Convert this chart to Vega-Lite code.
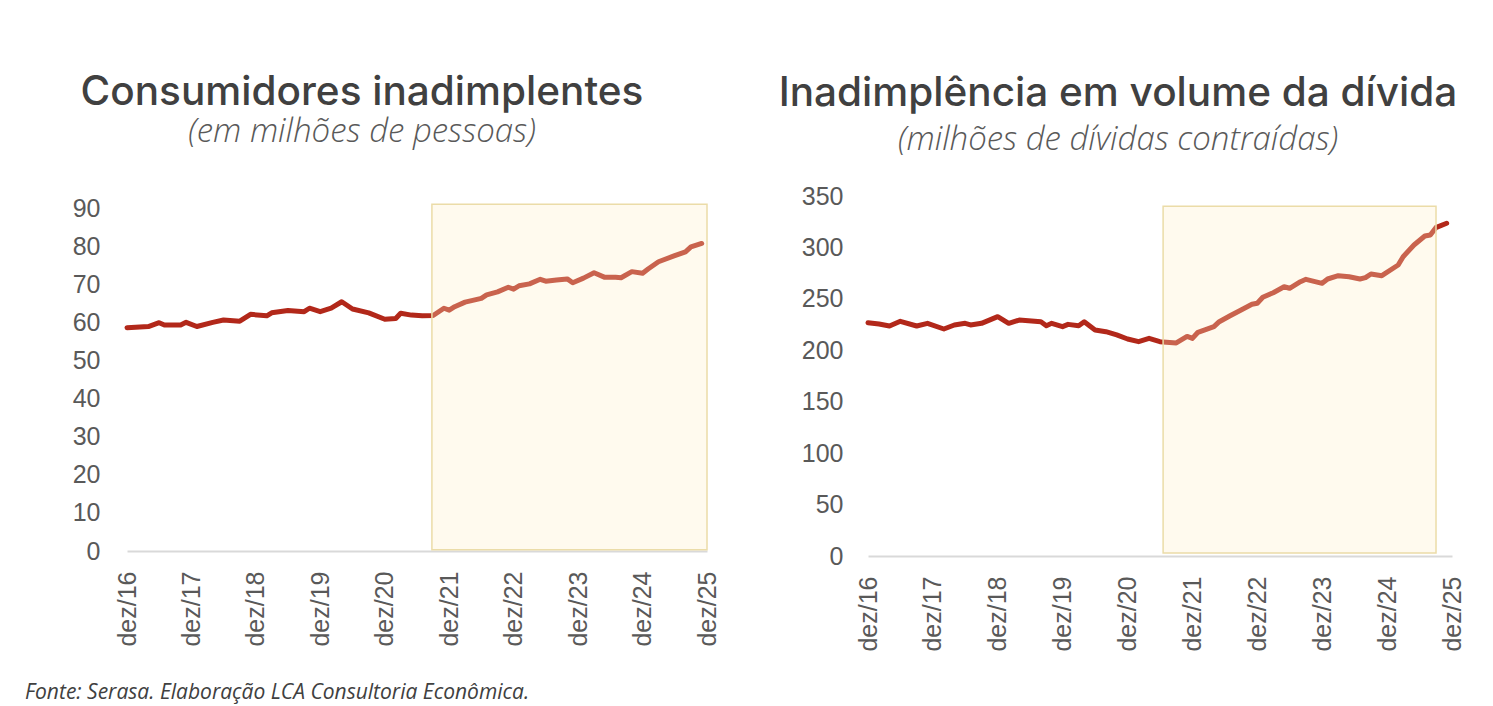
{
  "$schema": "https://vega.github.io/schema/vega-lite/v6.json",
  "background": "white",
  "padding": {"left": 25, "top": 72, "right": 10, "bottom": 5},
  "config": {
    "view": {"stroke": null},
    "axis": {"labelFont": "Liberation Sans", "labelColor": "#595959", "labelFontSize": 25, "grid": false, "ticks": false, "title": null, "labelOverlap": false}
  },
  "bounds": "flush",
  "spacing": 161,
  "title": {"text": "Fonte: Serasa. Elaboração LCA Consultoria Econômica.", "orient": "bottom", "anchor": "start", "frame": "group", "dx": -102, "offset": 31, "font": "Open Sans", "fontStyle": "italic", "fontWeight": 400, "fontSize": 21, "color": "#404040"},
  "datasets": {
    "left": [
      {"date": "2016-12-01", "value": 58.6}, {"date": "2017-04-01", "value": 58.9}, {"date": "2017-06-01", "value": 59.9},
      {"date": "2017-07-01", "value": 59.3}, {"date": "2017-10-01", "value": 59.3}, {"date": "2017-11-01", "value": 60.0},
      {"date": "2018-01-01", "value": 58.9}, {"date": "2018-04-01", "value": 60.0}, {"date": "2018-06-01", "value": 60.6},
      {"date": "2018-09-01", "value": 60.3}, {"date": "2018-11-01", "value": 62.1}, {"date": "2019-02-01", "value": 61.7},
      {"date": "2019-03-01", "value": 62.5}, {"date": "2019-06-01", "value": 63.1}, {"date": "2019-09-01", "value": 62.8},
      {"date": "2019-10-01", "value": 63.7}, {"date": "2019-12-01", "value": 62.8}, {"date": "2020-02-01", "value": 63.7},
      {"date": "2020-04-01", "value": 65.4}, {"date": "2020-06-01", "value": 63.5}, {"date": "2020-09-01", "value": 62.5},
      {"date": "2020-12-01", "value": 60.8}, {"date": "2021-02-01", "value": 61.0}, {"date": "2021-03-01", "value": 62.4},
      {"date": "2021-05-01", "value": 61.9}, {"date": "2021-07-01", "value": 61.7}, {"date": "2021-09-01", "value": 61.8},
      {"date": "2021-11-01", "value": 63.7}, {"date": "2021-12-01", "value": 63.2}, {"date": "2022-01-01", "value": 64.1},
      {"date": "2022-03-01", "value": 65.3}, {"date": "2022-06-01", "value": 66.3}, {"date": "2022-07-01", "value": 67.2},
      {"date": "2022-09-01", "value": 68.0}, {"date": "2022-11-01", "value": 69.2}, {"date": "2022-12-01", "value": 68.7},
      {"date": "2023-01-01", "value": 69.6}, {"date": "2023-03-01", "value": 70.1}, {"date": "2023-05-01", "value": 71.3},
      {"date": "2023-06-01", "value": 70.8}, {"date": "2023-08-01", "value": 71.1}, {"date": "2023-10-01", "value": 71.4},
      {"date": "2023-11-01", "value": 70.4}, {"date": "2024-01-01", "value": 71.6}, {"date": "2024-03-01", "value": 73.0},
      {"date": "2024-05-01", "value": 71.8}, {"date": "2024-07-01", "value": 71.8}, {"date": "2024-08-01", "value": 71.7},
      {"date": "2024-10-01", "value": 73.3}, {"date": "2024-12-01", "value": 72.9}, {"date": "2025-01-01", "value": 74.0},
      {"date": "2025-03-01", "value": 75.9}, {"date": "2025-06-01", "value": 77.5}, {"date": "2025-08-01", "value": 78.5},
      {"date": "2025-09-01", "value": 79.8}, {"date": "2025-11-01", "value": 80.7}
    ],
    "right": [
      {"date": "2016-12-01", "value": 226.8}, {"date": "2017-02-01", "value": 225.5}, {"date": "2017-04-01", "value": 223.6},
      {"date": "2017-06-01", "value": 228.2}, {"date": "2017-09-01", "value": 223.6}, {"date": "2017-11-01", "value": 226.2},
      {"date": "2018-02-01", "value": 220.7}, {"date": "2018-04-01", "value": 224.6}, {"date": "2018-06-01", "value": 226.2},
      {"date": "2018-07-01", "value": 224.6}, {"date": "2018-09-01", "value": 226.2}, {"date": "2018-12-01", "value": 232.7},
      {"date": "2019-02-01", "value": 226.2}, {"date": "2019-04-01", "value": 229.4}, {"date": "2019-08-01", "value": 227.8},
      {"date": "2019-09-01", "value": 223.9}, {"date": "2019-10-01", "value": 226.2}, {"date": "2019-12-01", "value": 223.0},
      {"date": "2020-01-01", "value": 225.2}, {"date": "2020-03-01", "value": 223.9}, {"date": "2020-04-01", "value": 227.8},
      {"date": "2020-06-01", "value": 219.7}, {"date": "2020-08-01", "value": 218.1}, {"date": "2020-10-01", "value": 214.9},
      {"date": "2020-12-01", "value": 211.0}, {"date": "2021-02-01", "value": 208.4}, {"date": "2021-04-01", "value": 211.6},
      {"date": "2021-06-01", "value": 208.4}, {"date": "2021-09-01", "value": 207.1}, {"date": "2021-11-01", "value": 213.5},
      {"date": "2021-12-01", "value": 211.6}, {"date": "2022-01-01", "value": 217.5}, {"date": "2022-04-01", "value": 223.0},
      {"date": "2022-05-01", "value": 227.8}, {"date": "2022-07-01", "value": 233.6}, {"date": "2022-09-01", "value": 239.2},
      {"date": "2022-11-01", "value": 244.7}, {"date": "2022-12-01", "value": 245.7}, {"date": "2023-01-01", "value": 251.5},
      {"date": "2023-03-01", "value": 256.0}, {"date": "2023-05-01", "value": 261.8}, {"date": "2023-06-01", "value": 260.3},
      {"date": "2023-08-01", "value": 266.7}, {"date": "2023-09-01", "value": 269.0}, {"date": "2023-12-01", "value": 265.1},
      {"date": "2024-01-01", "value": 269.3}, {"date": "2024-03-01", "value": 272.5}, {"date": "2024-05-01", "value": 271.5},
      {"date": "2024-07-01", "value": 269.3}, {"date": "2024-08-01", "value": 270.6}, {"date": "2024-09-01", "value": 274.2},
      {"date": "2024-11-01", "value": 272.5}, {"date": "2025-02-01", "value": 282.9}, {"date": "2025-03-01", "value": 291.0},
      {"date": "2025-05-01", "value": 302.4}, {"date": "2025-07-01", "value": 311.1}, {"date": "2025-08-01", "value": 312.1},
      {"date": "2025-09-01", "value": 319.2}, {"date": "2025-11-01", "value": 323.5}
    ],
    "leftBox": [{"start": "2021-08-25", "end": "2025-12-01", "low": 0.3, "high": 91}],
    "rightBox": [{"start": "2021-06-19", "end": "2025-09-02", "low": 3, "high": 340}]
  },
  "hconcat": [
    {
      "width": 580,
      "height": 355,
      "title": {"text": "Consumidores inadimplentes", "subtitle": "(em milhões de pessoas)", "anchor": "middle", "dx": -55, "offset": 47, "font": "Inter", "fontSize": 40.5, "fontWeight": 500, "color": "#404040", "subtitleFont": "Open Sans", "subtitleFontStyle": "italic", "subtitleFontWeight": 300, "subtitleFontSize": 33, "subtitleColor": "#595959", "subtitlePadding": 3},
      "layer": [
        {
          "data": {"name": "left"},
          "mark": {"type": "line", "color": "#B2281A", "strokeWidth": 5, "strokeCap": "round", "strokeJoin": "round"},
          "encoding": {
            "x": {"field": "date", "type": "temporal",
              "scale": {"type": "utc", "domain": [{"year": 2016, "month": 12, "date": 1, "utc": true}, {"year": 2025, "month": 12, "date": 1, "utc": true}], "nice": false},
              "axis": {"values": [{"year": 2016, "month": 12, "date": 1, "utc": true}, {"year": 2017, "month": 12, "date": 1, "utc": true}, {"year": 2018, "month": 12, "date": 1, "utc": true}, {"year": 2019, "month": 12, "date": 1, "utc": true}, {"year": 2020, "month": 12, "date": 1, "utc": true}, {"year": 2021, "month": 12, "date": 1, "utc": true}, {"year": 2022, "month": 12, "date": 1, "utc": true}, {"year": 2023, "month": 12, "date": 1, "utc": true}, {"year": 2024, "month": 12, "date": 1, "utc": true}, {"year": 2025, "month": 12, "date": 1, "utc": true}],
                "tickCount": 20, "labelExpr": "'dez/' + utcFormat(datum.value, '%y')", "labelAngle": 270, "labelPadding": 20, "labelFlush": false, "labelOverlap": false, "labelBound": false, "domainColor": "#D9D9D9", "domainWidth": 2}},
            "y": {"field": "value", "type": "quantitative",
              "scale": {"domain": [0, 93.15], "nice": false},
              "axis": {"values": [0, 10, 20, 30, 40, 50, 60, 70, 80, 90], "tickCount": 20, "labelOverlap": false, "domain": false, "labelPadding": 27}}
          }
        },
        {
          "data": {"name": "leftBox"},
          "mark": {"type": "rect", "fill": "#FFEEC6", "fillOpacity": 0.3, "stroke": "#EBDCA8", "strokeWidth": 1.5},
          "encoding": {
            "x": {"field": "start", "type": "temporal"},
            "x2": {"field": "end"},
            "y": {"field": "low", "type": "quantitative"},
            "y2": {"field": "high"}
          }
        }
      ]
    },
    {
      "width": 584,
      "height": 360,
      "title": {"text": "Inadimplência em volume da dívida", "subtitle": "(milhões de dívidas contraídas)", "anchor": "middle", "dx": -42, "offset": 27, "font": "Inter", "fontSize": 40.5, "fontWeight": 500, "color": "#404040", "subtitleFont": "Open Sans", "subtitleFontStyle": "italic", "subtitleFontWeight": 300, "subtitleFontSize": 33, "subtitleColor": "#595959", "subtitlePadding": 10},
      "layer": [
        {
          "data": {"name": "right"},
          "mark": {"type": "line", "color": "#B2281A", "strokeWidth": 5, "strokeCap": "round", "strokeJoin": "round"},
          "encoding": {
            "x": {"field": "date", "type": "temporal",
              "scale": {"type": "utc", "domain": [{"year": 2016, "month": 12, "date": 1, "utc": true}, {"year": 2025, "month": 12, "date": 1, "utc": true}], "nice": false},
              "axis": {"values": [{"year": 2016, "month": 12, "date": 1, "utc": true}, {"year": 2017, "month": 12, "date": 1, "utc": true}, {"year": 2018, "month": 12, "date": 1, "utc": true}, {"year": 2019, "month": 12, "date": 1, "utc": true}, {"year": 2020, "month": 12, "date": 1, "utc": true}, {"year": 2021, "month": 12, "date": 1, "utc": true}, {"year": 2022, "month": 12, "date": 1, "utc": true}, {"year": 2023, "month": 12, "date": 1, "utc": true}, {"year": 2024, "month": 12, "date": 1, "utc": true}, {"year": 2025, "month": 12, "date": 1, "utc": true}],
                "tickCount": 20, "labelExpr": "'dez/' + utcFormat(datum.value, '%y')", "labelAngle": 270, "labelPadding": 20, "labelFlush": false, "labelOverlap": false, "labelBound": false, "domainColor": "#D9D9D9", "domainWidth": 2}},
            "y": {"field": "value", "type": "quantitative",
              "scale": {"domain": [0, 350], "nice": false},
              "axis": {"values": [0, 50, 100, 150, 200, 250, 300, 350], "tickCount": 20, "labelOverlap": false, "domain": false, "labelPadding": 25}}
          }
        },
        {
          "data": {"name": "rightBox"},
          "mark": {"type": "rect", "fill": "#FFEEC6", "fillOpacity": 0.3, "stroke": "#EBDCA8", "strokeWidth": 1.5},
          "encoding": {
            "x": {"field": "start", "type": "temporal"},
            "x2": {"field": "end"},
            "y": {"field": "low", "type": "quantitative"},
            "y2": {"field": "high"}
          }
        }
      ]
    }
  ]
}
